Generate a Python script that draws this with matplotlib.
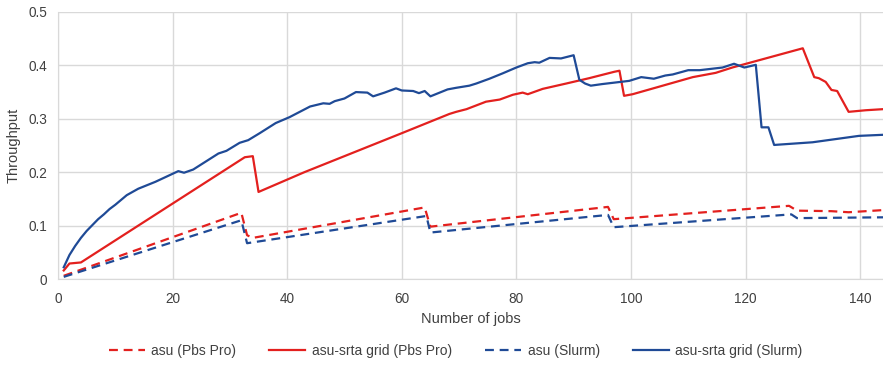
import matplotlib
matplotlib.use('Agg')
import matplotlib.pyplot as plt

# Values (job number -> throughput)
pbs_asu_x = [1, 32, 33, 34, 64, 65, 96, 97, 127.6, 129, 135, 138, 144]
pbs_asu_y = [0.006, 0.124, 0.082, 0.077, 0.134, 0.098, 0.135, 0.112, 0.137, 0.128, 0.127, 0.125, 0.129]

pbs_grid_x = [1, 2, 4, 32.6, 34, 35, 43, 60, 68.3, 69.5, 71.3, 74.7, 77.1, 79.4, 81.1, 82,
              84.6, 88.7, 92.7, 97.1, 98, 98.8, 100.3, 110.8, 114.8, 117.7, 130, 132, 132.8,
              134, 135, 136, 138, 141, 144]
pbs_grid_y = [0.016, 0.029, 0.031, 0.228, 0.230, 0.163, 0.200, 0.273, 0.309, 0.313, 0.318, 0.332,
              0.336, 0.345, 0.349, 0.346, 0.356, 0.366, 0.376, 0.388, 0.390, 0.343, 0.346, 0.378,
              0.386, 0.396, 0.432, 0.378, 0.376, 0.369, 0.354, 0.352, 0.313, 0.316, 0.318]

slurm_asu_x = [1, 32, 33, 64.3, 65, 96, 97, 128, 129, 144]
slurm_asu_y = [0.004, 0.110, 0.067, 0.118, 0.087, 0.120, 0.097, 0.121, 0.114, 0.1155]

slurm_grid_x = [1, 2, 3, 4, 5, 6, 7, 8, 9, 10, 11, 12, 14, 17, 19, 21, 22, 23.6, 28, 29.4,
                31.7, 33.2, 35.2, 38, 40.4, 44, 46.3, 47.4, 48.3, 50, 52, 54, 55, 57, 59, 60,
                62, 63, 64, 65, 68, 69.5, 71.8, 73, 75.3, 77.6, 80, 82, 83.2, 84, 85.8, 87.8,
                90, 91, 92, 93, 95, 99.7, 101.8, 104, 106, 107.3, 110, 112, 116, 118, 119.8,
                121.8, 122.8, 124, 125, 131.7, 139.8, 144]
slurm_grid_y = [0.022, 0.045, 0.062, 0.077, 0.090, 0.101, 0.112, 0.121, 0.131, 0.139, 0.148,
                0.157, 0.169, 0.182, 0.192, 0.202, 0.199, 0.205, 0.235, 0.240, 0.255, 0.260,
                0.273, 0.292, 0.303, 0.323, 0.329, 0.328, 0.333, 0.338, 0.350, 0.349, 0.342,
                0.349, 0.357, 0.353, 0.352, 0.348, 0.352, 0.342, 0.355, 0.358, 0.362, 0.366,
                0.375, 0.385, 0.396, 0.404, 0.406, 0.405, 0.414, 0.413, 0.419, 0.373, 0.366,
                0.362, 0.365, 0.371, 0.378, 0.375, 0.381, 0.383, 0.391, 0.391, 0.396, 0.403,
                0.396, 0.401, 0.284, 0.284, 0.251, 0.256, 0.268, 0.270]

x_ticks = [0, 20, 40, 60, 80, 100, 120, 140]
y_ticks = [0, 0.1, 0.2, 0.3, 0.4, 0.5]
y_tick_labels = ['0', '0.1', '0.2', '0.3', '0.4', '0.5']

RED = '#e3201e'
BLUE = '#1f4a96'
TXT = '#404040'
GRID = '#d9d9d9'

plt.rcParams['font.family'] = ['Liberation Sans', 'DejaVu Sans']

fig = plt.figure(figsize=(8.83, 3.66), dpi=100)
ax = fig.add_axes([0.0657, 0.2377, 0.9343, 0.7296])

dash = (0, (4, 2.6))
ax.plot(pbs_asu_x, pbs_asu_y, color=RED, lw=1.6, linestyle=dash, label='asu (Pbs Pro)')
ax.plot(pbs_grid_x, pbs_grid_y, color=RED, lw=1.6, label='asu-srta grid (Pbs Pro)')
ax.plot(slurm_asu_x, slurm_asu_y, color=BLUE, lw=1.6, linestyle=dash, label='asu (Slurm)')
ax.plot(slurm_grid_x, slurm_grid_y, color=BLUE, lw=1.6, label='asu-srta grid (Slurm)')

ax.set_xlim(0, 144)
ax.set_ylim(0, 0.5)
ax.set_xticks(x_ticks)
ax.set_yticks(y_ticks)
ax.set_yticklabels(y_tick_labels)
ax.tick_params(length=0, labelsize=9.8, labelcolor=TXT)
ax.tick_params(axis='x', pad=9)
ax.tick_params(axis='y', pad=8)
ax.grid(True, color=GRID, lw=1)
ax.set_axisbelow(True)
for side in ['top', 'right']:
    ax.spines[side].set_visible(False)
for side in ['left', 'bottom']:
    ax.spines[side].set_color(GRID)

ax.set_xlabel('Number of jobs', fontsize=10.5, color=TXT, labelpad=5)
ax.set_ylabel('Throughput', fontsize=10.5, color=TXT, labelpad=5)

fig.legend(loc='center', bbox_to_anchor=(0.516, 0.04), ncol=4, frameon=False,
           fontsize=10, handlelength=2.6, handletextpad=0.45, columnspacing=2.4,
           labelcolor=TXT)

fig.savefig('out.png', dpi=100)
